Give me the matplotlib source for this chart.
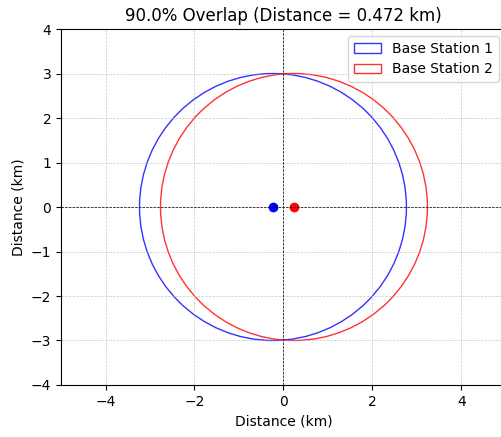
import numpy as np
import matplotlib.pyplot as plt
from matplotlib.patches import Circle

# Two base stations with equal coverage radius
radius = 3.0
distance = 0.472
overlap_pct = 90.0
centers = [(-distance / 2, 0.0), (distance / 2, 0.0)]
labels = ["Base Station 1", "Base Station 2"]
colors = ["blue", "red"]

fig = plt.figure(figsize=(5.01, 4.37), dpi=100)
ax = fig.add_axes([0.1218, 0.119, 0.888, 0.8146])

for (cx, cy), lab, col in zip(centers, labels, colors):
    ax.add_patch(Circle((cx, cy), radius, fill=False, edgecolor=col, alpha=0.8, label=lab))
    ax.plot(cx, cy, "o", color=col)

ax.axhline(0, color="black", linestyle="--", linewidth=0.5)
ax.axvline(0, color="black", linestyle="--", linewidth=0.5)

ax.set_xlim(-5, 5)
ax.set_ylim(-4, 4)
ax.set_xlabel("Distance (km)")
ax.set_ylabel("Distance (km)")
ax.set_title("{}% Overlap (Distance = {} km)".format(overlap_pct, distance))
ax.grid(True, linestyle="--", linewidth=0.5, alpha=0.7)
ax.legend(loc="upper right")

fig.savefig("out.png", dpi=100)
